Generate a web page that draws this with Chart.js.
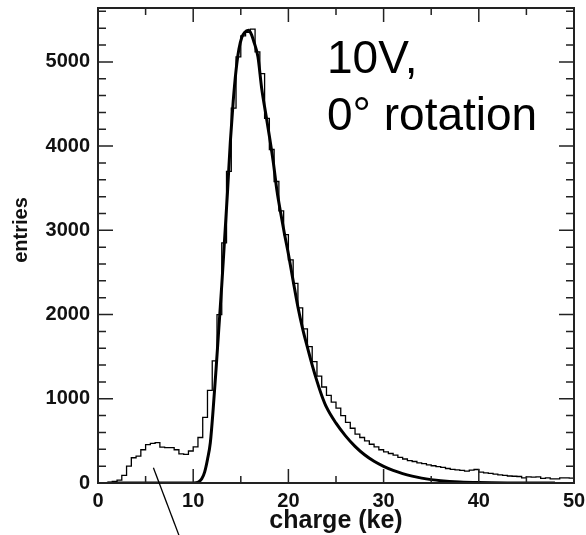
<!DOCTYPE html>
<html>
<head>
<meta charset="utf-8">
<script src="https://cdn.jsdelivr.net/npm/chart.js@4.4.1/dist/chart.umd.min.js"></script>
<style>
    html, body { margin: 0; padding: 0; background: #fff; }
    #wrap { width: 586px; height: 535px; }
</style>
</head>
<body>
<div id="wrap"><canvas id="chargeChart" width="586" height="535"></canvas></div>
<script>
// histogram: 100 bins of 0.5 ke from 0 to 50
const binStart = 0;
const binWidth = 0.5;
const histEntries = [
    0, 0, 8, 20, 35, 90, 200, 300, 320, 395,
    455, 470, 480, 425, 420, 420, 395, 345, 340, 380,
    430, 540, 780, 1100, 1450, 2000, 2850, 3700, 4450, 5060,
    5310, 5350, 5390, 5120, 4860, 4330, 3960, 3580, 3230, 2950,
    2650, 2370, 2080, 1830, 1620, 1440, 1270, 1140, 1040, 960,
    890, 800, 720, 650, 580, 540, 500, 460, 430, 395,
    370, 350, 330, 305, 285, 265, 255, 240, 230, 215,
    205, 195, 185, 172, 162, 156, 150, 140, 152, 160,
    130, 121, 115, 106, 96, 90, 83, 80, 77, 62,
    72, 70, 72, 56, 62, 48, 50, 60, 62, 58
];

// fitted curve
const fitCharge = [1, 9.5, 10.0, 10.3, 10.6, 10.9, 11.2, 11.5, 11.8, 12.1, 12.4, 12.7, 13.0, 13.3, 13.6, 13.9,
    14.2, 14.5, 14.8, 15.1, 15.4, 15.8, 16.1, 16.4, 16.8, 17.2, 17.6, 18.0, 18.4, 18.8, 19.2, 19.6,
    20.0, 20.5, 21.0, 21.5, 22.0, 22.5, 23.0, 23.5, 24.0, 25.0, 26.0, 27.0, 28.0, 29.0, 30.0,
    31.0, 32.0, 33.0, 34.0, 35.0, 36.0, 38.0, 40.0, 43.0, 48.0];
const fitEntries = [0, 0, 1, 3, 15, 50, 130, 280, 480, 880, 1350, 1850, 2350, 2900, 3450, 4050,
    4530, 4900, 5150, 5290, 5350, 5375, 5330, 5230, 5060, 4680, 4400, 4120, 3820, 3470, 3200, 2950,
    2720, 2400, 2090, 1830, 1610, 1400, 1210, 1040, 900, 710, 560, 435, 335, 258, 198,
    150, 112, 82, 58, 40, 27, 12, 5, 1, 0];

const xMajorTicks = [0, 10, 20, 30, 40, 50];
const xMinorTicks = [5, 15, 25, 35, 45];
const yMajorTicks = [0, 1000, 2000, 3000, 4000, 5000];
const yMinorTicks = [200, 400, 600, 800, 1200, 1400, 1600, 1800, 2200, 2400, 2600, 2800,
    3200, 3400, 3600, 3800, 4200, 4400, 4600, 4800, 5200, 5400, 5600];

// pointer line from the low-charge bump (charge, entries)
const pointerFrom = [5.82, 180];
const pointerTo = [8.6, -650];

const labelLines = ['10V,', '0\u00b0 rotation'];
const yTitle = 'entries';

// turn bins into step points (left edge + closing right edge)
const histPoints = histEntries.map((v, i) => ({ x: binStart + i * binWidth, y: v }));
histPoints.push({ x: binStart + histEntries.length * binWidth, y: histEntries[histEntries.length - 1] });
const fitPoints = fitCharge.map((c, i) => ({ x: c, y: fitEntries[i] }));

// ROOT style frame with inner ticks on all four sides
const frameTicks = {
    id: 'frameTicks',
    afterDraw(chart) {
        const { ctx, chartArea: a, scales: { x, y } } = chart;
        ctx.save();
        ctx.strokeStyle = '#222';
        ctx.lineWidth = 1.5;
        ctx.beginPath();
        const xt = (v, len) => {
            const px = x.getPixelForValue(v);
            ctx.moveTo(px, a.bottom); ctx.lineTo(px, a.bottom - len);
            ctx.moveTo(px, a.top); ctx.lineTo(px, a.top + len);
        };
        const yt = (v, len) => {
            const py = y.getPixelForValue(v);
            ctx.moveTo(a.left, py); ctx.lineTo(a.left + len, py);
            ctx.moveTo(a.right, py); ctx.lineTo(a.right - len, py);
        };
        xMajorTicks.forEach(v => xt(v, 14));
        xMinorTicks.forEach(v => xt(v, 7));
        yMajorTicks.forEach(v => yt(v, 15));
        yMinorTicks.forEach(v => yt(v, 8));
        ctx.stroke();
        ctx.lineWidth = 2;
        ctx.strokeRect(a.left, a.top, a.right - a.left, a.bottom - a.top);

        // pointer line
        ctx.lineWidth = 1.3;
        ctx.strokeStyle = '#000';
        ctx.beginPath();
        ctx.moveTo(x.getPixelForValue(pointerFrom[0]), y.getPixelForValue(pointerFrom[1]));
        ctx.lineTo(x.getPixelForValue(pointerTo[0]), y.getPixelForValue(pointerTo[1]));
        ctx.stroke();

        // big label
        ctx.fillStyle = '#000';
        ctx.font = '46px "Liberation Sans", Arial, sans-serif';
        ctx.textAlign = 'left';
        ctx.textBaseline = 'alphabetic';
        ctx.fillText(labelLines[0], a.left + 229, a.top + 65);
        ctx.fillText(labelLines[1], a.left + 229, a.top + 122);

        // y title sits a bit above the middle, like the original
        ctx.fillStyle = '#111';
        ctx.font = 'bold 20px "Liberation Sans", Arial, sans-serif';
        ctx.textAlign = 'center';
        ctx.textBaseline = 'middle';
        ctx.translate(21, 230);
        ctx.rotate(-Math.PI / 2);
        ctx.fillText(yTitle, 0, 0);
        ctx.restore();
    }
};

// drop the label overhang padding so the frame sits where we want it
function noEdgePadding(scale) {
    scale.paddingTop = 0;
    scale.paddingBottom = 0;
    scale.paddingLeft = 0;
    scale.paddingRight = 0;
}

const tickFont = { family: '"Liberation Sans", Arial, sans-serif', size: 20, weight: 'bold' };

const ctx = document.getElementById('chargeChart').getContext('2d');
const chargeChart = new Chart(ctx, {
    type: 'line',
    data: {
        datasets: [{
            label: 'data',
            data: histPoints,
            stepped: true,
            borderColor: '#000',
            borderWidth: 1.3,
            pointRadius: 0,
            fill: false
        }, {
            label: 'fit',
            data: fitPoints,
            cubicInterpolationMode: 'monotone',
            borderColor: '#000',
            borderWidth: 3,
            pointRadius: 0,
            fill: false
        }]
    },
    options: {
        responsive: false,
        animation: false,
        devicePixelRatio: 1,
        layout: { padding: { top: 8, right: 12, left: 0, bottom: 0 } },
        plugins: {
            legend: { display: false },
            tooltip: { enabled: false }
        },
        scales: {
            x: {
                type: 'linear',
                min: 0,
                max: 50,
                afterBuildTicks: scale => { scale.ticks = xMajorTicks.map(v => ({ value: v })); },
                afterFit: scale => { scale.height = 52; noEdgePadding(scale); },
                grid: { display: false, drawTicks: false },
                border: { display: false },
                ticks: { font: tickFont, color: '#111', padding: 6, maxRotation: 0, callback: v => String(v) },
                title: {
                    display: true,
                    text: 'charge (ke)',
                    font: { family: '"Liberation Sans", Arial, sans-serif', size: 25, weight: 'bold' },
                    color: '#111',
                    padding: { top: 0, bottom: -1 }
                }
            },
            y: {
                type: 'linear',
                min: 0,
                max: 5640,
                afterBuildTicks: scale => { scale.ticks = yMajorTicks.map(v => ({ value: v })); },
                afterFit: scale => { scale.width = 98; noEdgePadding(scale); },
                grid: { display: false, drawTicks: false },
                border: { display: false },
                ticks: { font: tickFont, color: '#111', padding: 8, callback: v => String(v) },
                title: { display: false }
            }
        }
    },
    plugins: [frameTicks]
});
</script>
</body>
</html>
